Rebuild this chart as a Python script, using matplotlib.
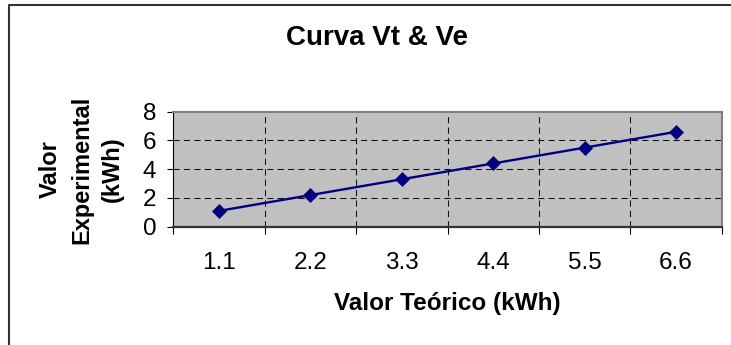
import numpy as np
import matplotlib
matplotlib.use('Agg')  # no display
import matplotlib.pyplot as plt
from matplotlib.lines import Line2D

# theoretical vs experimental energy (kWh)
categorias = ["1.1", "2.2", "3.3", "4.4", "5.5", "6.6"]
valor_experimental = [1.1, 2.2, 3.3, 4.4, 5.5, 6.6]
y_ticks = [0, 2, 4, 6, 8]

plt.rcParams['font.family'] = ['Liberation Sans', 'DejaVu Sans']

W, H = 731, 345
fig = plt.figure(figsize=(W / 100, H / 100), dpi=100)
fig.patch.set_facecolor('white')

# plot area in pixel coords
left, right, top, bottom = 173.4, 721.7, 111.7, 226.7
ax = fig.add_axes([left / W, 1 - bottom / H, (right - left) / W, (bottom - top) / H])
ax.set_facecolor('#C0C0C0')

x = np.arange(len(categorias)) + 0.5
ax.plot(x, valor_experimental, color='#000080', lw=1.7, marker='D', ms=7,
        mfc='#000080', mec='#000080', mew=0.5, zorder=3)

ax.set_xlim(0, len(categorias))
ax.set_ylim(y_ticks[0], y_ticks[-1])

# category boundaries carry the tick marks, centers carry the labels
ax.set_xticks(np.arange(len(categorias) + 1))
ax.set_xticklabels([])
ax.set_xticks(x, minor=True)
ax.set_xticklabels(categorias, minor=True, fontsize=17.5)
ax.tick_params(axis='x', which='major', length=5, width=0.8, direction='out', color='black')
ax.tick_params(axis='x', which='minor', length=0, pad=18.5)

ax.set_yticks(y_ticks)
ax.set_yticklabels([str(v) for v in y_ticks], fontsize=17.5)
ax.tick_params(axis='y', length=4.3, width=0.8, direction='out', pad=8, color='black')

dash = (0, (6, 4))
for xb in range(1, len(categorias)):
    ax.axvline(xb, color='#111111', lw=0.75, linestyle=dash, zorder=1.5)
for yv in y_ticks[1:-1]:
    ax.axhline(yv, color='#111111', lw=0.75, linestyle=dash, zorder=1.5)

ax.spines['top'].set_color('#808080')
ax.spines['top'].set_linewidth(1.5)
ax.spines['right'].set_color('#808080')
ax.spines['right'].set_linewidth(1.5)
ax.spines['bottom'].set_color('#333333')
ax.spines['bottom'].set_linewidth(1.6)
ax.spines['left'].set_color('black')
ax.spines['left'].set_linewidth(0.8)

# titles
fig.text(376.5 / W, 1 - 45 / H, "Curva Vt & Ve", fontsize=20, fontweight='bold',
         ha='center', va='baseline')
fig.text(447.5 / W, 1 - 310 / H, "Valor Teórico (kWh)", fontsize=17.5, fontweight='bold',
         ha='center', va='baseline')
for xb, txt in zip([57, 88, 119], ["Valor", "Experimental", "(kWh)"]):
    fig.text(xb / W, 1 - 169.5 / H, txt, fontsize=17, fontweight='bold', rotation=90,
             rotation_mode='anchor', ha='center', va='baseline')

# chart area border (left and top edges)
fig.add_artist(Line2D([9 / W, 9 / W, 1.0], [0.0, 1 - 5 / H, 1 - 5 / H],
                      transform=fig.transFigure, color='#333333', lw=1.5))

fig.savefig('out.png', dpi=100)
